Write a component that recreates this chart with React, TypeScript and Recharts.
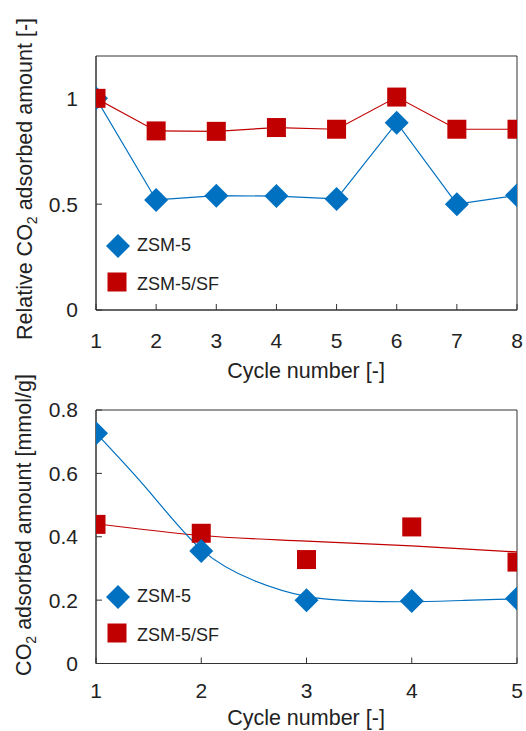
import React from 'react';
import {
  ComposedChart, Line, Scatter, XAxis, YAxis, ReferenceArea, Legend,
} from 'recharts';

const BLUE = '#0070C0';
const RED = '#C00000';
const AXIS = '#333333';
const FONT = '"Liberation Sans", Arial, sans-serif';

// top chart: relative CO2 adsorbed amount
const cyclesTop = [1, 2, 3, 4, 5, 6, 7, 8];
const relZsm = [1.0, 0.52, 0.54, 0.538, 0.525, 0.885, 0.5, 0.542];
const relZsmSf = [1.0, 0.846, 0.844, 0.862, 0.854, 1.006, 0.854, 0.854];
const yTicksTop = [0, 0.5, 1];

// bottom chart: CO2 adsorbed amount [mmol/g]
const cyclesBottom = [1, 2, 3, 4, 5];
const absZsm = [0.727, 0.355, 0.2, 0.197, 0.205];
const absZsmSf = [0.439, 0.411, 0.328, 0.431, 0.32];
const yTicksBottom = [0, 0.2, 0.4, 0.6, 0.8];

// fitted trend curves
const fitZsmX = [1, 1.5, 2, 2.5, 3, 3.5, 4, 4.5, 5];
const fitZsmY = [0.727, 0.545, 0.36, 0.262, 0.212, 0.197, 0.195, 0.199, 0.204];
const fitSfX = [1, 2, 3, 4, 5];
const fitSfY = [0.441, 0.404, 0.386, 0.371, 0.352];

const pairs = (xs: number[], ys: number[]) => xs.map((x, i) => ({ x, y: ys[i] }));

const Diamond = (props: any) => {
  const { cx, cy } = props;
  if (cx == null || cy == null) return null;
  const r = 12;
  return <path d={`M${cx},${cy - r}L${cx + r},${cy}L${cx},${cy + r}L${cx - r},${cy}Z`} fill={BLUE} />;
};

const Square = (props: any) => {
  const { cx, cy } = props;
  if (cx == null || cy == null) return null;
  const s = 9.5;
  return <rect x={cx - s} y={cy - s} width={s * 2} height={s * 2} fill={RED} />;
};

const renderDiamond = (props: any) => <Diamond key={`d-${props.index}`} {...props} />;
const renderSquare = (props: any) => <Square key={`s-${props.index}`} {...props} />;

const LegendBox = () => (
  <div style={{ fontFamily: FONT, fontSize: 18, color: '#222' }}>
    <div style={{ display: 'flex', alignItems: 'center', height: 35 }}>
      <svg width={28} height={28}><path d="M14,2L26,14L14,26L2,14Z" fill={BLUE} /></svg>
      <span style={{ marginLeft: 5 }}>ZSM-5</span>
    </div>
    <div style={{ display: 'flex', alignItems: 'center', height: 37 }}>
      <svg width={28} height={28}><rect x={3.5} y={4.5} width={19} height={19} fill={RED} /></svg>
      <span style={{ marginLeft: 5, marginTop: 6 }}>ZSM-5/SF</span>
    </div>
  </div>
);

const YTitle = ({ x, cy, main, rest }: { x: number; cy: number; main: string; rest: string }) => (
  <text
    x={x}
    y={cy}
    transform={`rotate(-90, ${x}, ${cy})`}
    textAnchor="middle"
    fontFamily={FONT}
    fontSize={21.5}
    fill="#222"
  >
    {main}
    <tspan fontSize={14} dy={5}>2</tspan>
    <tspan dy={-5}>{rest}</tspan>
  </text>
);

const XTitle = ({ y }: { y: number }) => (
  <text x={306} y={y} textAnchor="middle" fontFamily={FONT} fontSize={21.5} fill="#222">
    Cycle number [-]
  </text>
);

const tickStyle = { fontSize: 21, fill: '#222', fontFamily: FONT };

export default function App() {
  return (
    <div style={{ position: 'absolute', left: 0, top: 0, width: 526, height: 731, background: '#fff' }}>
      <div style={{ position: 'absolute', left: 0, top: 0 }}>
        <ComposedChart width={526} height={390} margin={{ top: 56, right: 9, bottom: 20, left: 36 }}>
          <XAxis
            type="number"
            dataKey="x"
            domain={[1, 8]}
            ticks={cyclesTop}
            height={60}
            tickSize={-6}
            tickMargin={29}
            tick={tickStyle}
            axisLine={{ stroke: AXIS }}
            tickLine={{ stroke: AXIS }}
            allowDataOverflow
            label={{ content: () => <XTitle y={378} /> }}
          />
          <YAxis
            type="number"
            dataKey="y"
            domain={[0, 1.2]}
            ticks={yTicksTop}
            width={60}
            tickSize={-6}
            tickMargin={24}
            tick={tickStyle}
            axisLine={{ stroke: AXIS }}
            tickLine={{ stroke: AXIS }}
            allowDataOverflow
            label={{ content: () => <YTitle x={32} cy={179} main="Relative CO" rest=" adsorbed amount [-]" /> }}
          />
          <ReferenceArea x1={1} x2={8} y1={0} y2={1.2} fill="none" stroke={AXIS} strokeWidth={1} ifOverflow="visible" />
          <Line
            data={pairs(cyclesTop, relZsm)}
            dataKey="y"
            type="linear"
            stroke={BLUE}
            strokeWidth={1.2}
            dot={renderDiamond}
            activeDot={false}
            isAnimationActive={false}
          />
          <Line
            data={pairs(cyclesTop, relZsmSf)}
            dataKey="y"
            type="linear"
            stroke={RED}
            strokeWidth={1.2}
            dot={renderSquare}
            activeDot={false}
            isAnimationActive={false}
          />
          <Legend
            layout="vertical"
            align="center"
            verticalAlign="middle"
            content={() => <LegendBox />}
            wrapperStyle={{ left: 104, top: 228, width: 160 }}
          />
        </ComposedChart>
      </div>

      <div style={{ position: 'absolute', left: 0, top: 350 }}>
        <ComposedChart width={526} height={381} margin={{ top: 60, right: 9, bottom: 17.5, left: 36 }}>
          <XAxis
            type="number"
            dataKey="x"
            domain={[1, 5]}
            ticks={cyclesBottom}
            height={50}
            tickSize={-6}
            tickMargin={26}
            tick={tickStyle}
            axisLine={{ stroke: AXIS }}
            tickLine={{ stroke: AXIS }}
            allowDataOverflow
            label={{ content: () => <XTitle y={375} /> }}
          />
          <YAxis
            type="number"
            dataKey="y"
            domain={[0, 0.8]}
            ticks={yTicksBottom}
            width={60}
            tickSize={-6}
            tickMargin={24}
            tick={tickStyle}
            axisLine={{ stroke: AXIS }}
            tickLine={{ stroke: AXIS }}
            allowDataOverflow
            label={{ content: () => <YTitle x={31} cy={175} main="CO" rest=" adsorbed amount [mmol/g]" /> }}
          />
          <ReferenceArea x1={1} x2={5} y1={0} y2={0.8} fill="none" stroke={AXIS} strokeWidth={1} ifOverflow="visible" />
          <Scatter
            data={pairs(cyclesBottom, absZsmSf)}
            dataKey="y"
            shape={(p: any) => <Square {...p} />}
            isAnimationActive={false}
          />
          <Line
            data={pairs(fitSfX, fitSfY)}
            dataKey="y"
            type="monotone"
            stroke={RED}
            strokeWidth={1.2}
            dot={false}
            activeDot={false}
            isAnimationActive={false}
          />
          <Line
            data={pairs(fitZsmX, fitZsmY)}
            dataKey="y"
            type="natural"
            stroke={BLUE}
            strokeWidth={1.2}
            dot={false}
            activeDot={false}
            isAnimationActive={false}
          />
          <Scatter
            data={pairs(cyclesBottom, absZsm)}
            dataKey="y"
            shape={(p: any) => <Diamond {...p} />}
            isAnimationActive={false}
          />
          <Legend
            layout="vertical"
            align="center"
            verticalAlign="middle"
            content={() => <LegendBox />}
            wrapperStyle={{ left: 104, top: 229, width: 160 }}
          />
        </ComposedChart>
      </div>
    </div>
  );
}
